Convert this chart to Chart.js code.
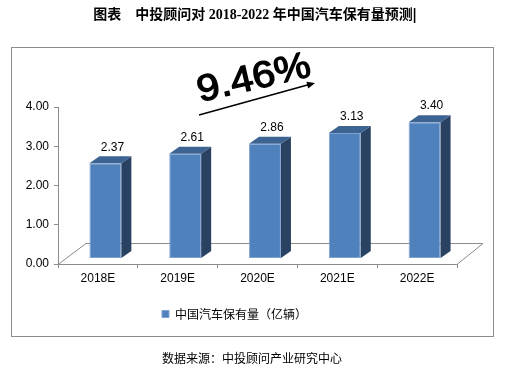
<!DOCTYPE html>
<html>
<head>
<meta charset="utf-8">
<script src="https://cdn.jsdelivr.net/npm/chart.js@4.4.0/dist/chart.umd.min.js"></script>
<style>
  html, body { margin: 0; padding: 0; background: #fff; }
  canvas { display: block; }
</style>
</head>
<body>
<canvas id="chart" width="510" height="365"></canvas>
<script>
const years = ['2018E', '2019E', '2020E', '2021E', '2022E'];
const carStock = [2.37, 2.61, 2.86, 3.13, 3.40];
const yTicks = [0, 1, 2, 3, 4];
const seriesName = '中国汽车保有量（亿辆）';
const growthLabel = '9.46%';
const chartTitle = '图表　中投顾问对 2018-2022 年中国汽车保有量预测';
const sourceNote = '数据来源：中投顾问产业研究中心';

const FRONT = '#4F81BD';
const TOP = '#3D6393';
const SIDE = '#2A4262';
const SHIFT = 7.5;   // bars sit a bit to the right (3d perspective)
const DX = 10, DY = 7;

const decor = {
    id: 'decor',
    beforeDraw(chart) {
        const ctx = chart.ctx;
        ctx.save();
        ctx.fillStyle = '#fff';
        ctx.fillRect(0, 0, chart.width, chart.height);
        // outer frame
        ctx.strokeStyle = '#8C8C8C';
        ctx.lineWidth = 1;
        ctx.strokeRect(11.5, 47.5, 482, 289);
        // title
        ctx.fillStyle = '#000';
        ctx.font = 'bold 14px "Liberation Serif", "Noto Sans CJK SC"';
        ctx.textAlign = 'center';
        ctx.textBaseline = 'middle';
        ctx.fillText(chartTitle, 253, 15);
        const tw = ctx.measureText(chartTitle).width;
        ctx.fillRect(253 + tw / 2 + 1, 8, 1.5, 15);
        // footer
        ctx.font = '12px "Noto Sans CJK SC"';
        ctx.fillText(sourceNote, 252, 358);
        ctx.restore();
    },
    beforeDatasetsDraw(chart) {
        const ctx = chart.ctx;
        const a = chart.chartArea;
        // 3d floor
        ctx.save();
        ctx.strokeStyle = '#8C8C8C';
        ctx.lineWidth = 1;
        ctx.beginPath();
        ctx.moveTo(a.left, a.bottom + 0.5);
        ctx.lineTo(a.left + 28, a.bottom - 20.5);
        ctx.lineTo(a.right + 26, a.bottom - 20.5);
        ctx.lineTo(a.right, a.bottom + 0.5);
        ctx.stroke();
        ctx.restore();
        ctx.save();
        ctx.translate(SHIFT, 0);
    },
    afterDatasetsDraw(chart) {
        const ctx = chart.ctx;
        const meta = chart.getDatasetMeta(0);
        meta.data.forEach((bar, i) => {
            const l = bar.x - bar.width / 2, r = bar.x + bar.width / 2;
            const t = bar.y, b = bar.base;
            ctx.fillStyle = SIDE;
            ctx.beginPath();
            ctx.moveTo(r, t);
            ctx.lineTo(r + DX, t - DY);
            ctx.lineTo(r + DX, b - DY);
            ctx.lineTo(r, b);
            ctx.closePath();
            ctx.fill();
            ctx.fillStyle = TOP;
            ctx.beginPath();
            ctx.moveTo(l, t);
            ctx.lineTo(l + DX, t - DY);
            ctx.lineTo(r + DX, t - DY);
            ctx.lineTo(r, t);
            ctx.closePath();
            ctx.fill();
            ctx.fillStyle = '#000';
            ctx.font = '12px "Liberation Sans", Arial';
            ctx.textAlign = 'center';
            ctx.textBaseline = 'middle';
            ctx.fillText(carStock[i].toFixed(2), bar.x + 7, t - 16);
        });
        ctx.restore();

        // growth annotation
        ctx.save();
        ctx.translate(254, 79);
        ctx.rotate(-13 * Math.PI / 180);
        ctx.scale(1.1, 1);
        ctx.fillStyle = '#000';
        ctx.strokeStyle = '#000';
        ctx.lineWidth = 1.3;
        ctx.lineJoin = 'round';
        ctx.font = '37px "Liberation Sans", Arial';
        ctx.textAlign = 'center';
        ctx.textBaseline = 'middle';
        ctx.fillText(growthLabel, 0, 0);
        ctx.strokeText(growthLabel, 0, 0);
        ctx.restore();

        ctx.save();
        ctx.strokeStyle = '#000';
        ctx.fillStyle = '#000';
        ctx.lineWidth = 1.5;
        const x1 = 199, y1 = 115, x2 = 315, y2 = 83;
        const ang = Math.atan2(y2 - y1, x2 - x1);
        ctx.beginPath();
        ctx.moveTo(x1, y1);
        ctx.lineTo(x2 - 6 * Math.cos(ang), y2 - 6 * Math.sin(ang));
        ctx.stroke();
        ctx.beginPath();
        ctx.moveTo(x2, y2);
        ctx.lineTo(x2 - 8 * Math.cos(ang) + 3.5 * Math.sin(ang), y2 - 8 * Math.sin(ang) - 3.5 * Math.cos(ang));
        ctx.lineTo(x2 - 8 * Math.cos(ang) - 3.5 * Math.sin(ang), y2 - 8 * Math.sin(ang) + 3.5 * Math.cos(ang));
        ctx.closePath();
        ctx.fill();
        ctx.restore();
    }
};

new Chart(document.getElementById('chart'), {
    type: 'bar',
    data: {
        labels: years,
        datasets: [{
            label: seriesName,
            data: carStock,
            yAxisID: 'y2',
            backgroundColor: FRONT,
            borderColor: '#7FA3D0',
            borderWidth: 1,
            borderSkipped: false,
            categoryPercentage: 1,
            barPercentage: 0.4
        }]
    },
    options: {
        responsive: false,
        animation: false,
        devicePixelRatio: 1,
        layout: {
            padding: { top: 107, left: 12, right: 53, bottom: 35 }
        },
        scales: {
            x: {
                offset: true,
                grid: { offset: true, drawOnChartArea: false, tickLength: 4, color: '#8C8C8C' },
                border: { color: '#8C8C8C' },
                ticks: { color: '#000', padding: 3, font: { family: '"Liberation Sans", Arial', size: 12 } },
                afterFit(s) { s.height = 34; }
            },
            y: {
                min: 0,
                max: 4,
                afterBuildTicks(s) { s.ticks = yTicks.map(v => ({ value: v })); },
                grid: { drawOnChartArea: false, tickLength: 4, color: '#8C8C8C' },
                border: { color: '#8C8C8C' },
                ticks: {
                    color: '#000',
                    padding: 5,
                    font: { family: '"Liberation Sans", Arial', size: 12 },
                    callback: v => Number(v).toFixed(2)
                },
                afterFit(s) { s.width = 46; }
            },
            y2: {
                display: false,
                min: -0.15,
                max: 3.78
            }
        },
        plugins: {
            legend: {
                position: 'bottom',
                labels: {
                    boxWidth: 7,
                    boxHeight: 7,
                    padding: 10,
                    color: '#000',
                    font: { family: '"Noto Sans CJK SC"', size: 12 }
                }
            },
            tooltip: { enabled: false }
        }
    },
    plugins: [decor]
});
</script>
</body>
</html>
